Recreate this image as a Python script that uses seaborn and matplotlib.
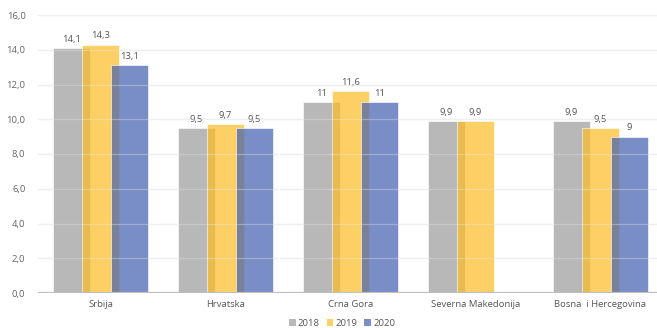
import numpy as np
import pandas as pd
import matplotlib
matplotlib.use("Agg")
import matplotlib.pyplot as plt
from matplotlib.patches import Patch
import seaborn as sns

countries = ["Srbija", "Hrvatska", "Crna Gora", "Severna Makedonija", "Bosna  i Hercegovina"]
years = ["2018", "2019", "2020"]
v2018 = [14.1, 9.5, 11.0, 9.9, 9.9]
v2019 = [14.3, 9.7, 11.6, 9.9, 9.5]
v2020 = [13.1, 9.5, 11.0, np.nan, 9.0]
yticks = [0, 2, 4, 6, 8, 10, 12, 14, 16]

# translucent fills; the legend uses their look on white
bar_colors = ["#9b9b9b", "#fcbd24", "#415fb0"]
legend_colors = ["#b9b9b9", "#fdd166", "#7a8fc8"]
ALPHA = 0.7

df = pd.DataFrame({
    "country": np.repeat(countries, 3),
    "year": years * len(countries),
    "value": [v for trio in zip(v2018, v2019, v2020) for v in trio],
}).dropna()

sns.set_theme(style="white")
plt.rcParams["font.family"] = ["Open Sans", "DejaVu Sans"]

fig = plt.figure(figsize=(6.57, 3.28), dpi=100)
ax = fig.add_axes([38 / 657, 35 / 328, 619 / 657, 278 / 328])

sns.barplot(data=df, x="country", y="value", hue="year", order=countries,
            hue_order=years, palette=bar_colors, saturation=1, width=0.696, gap=-0.31,
            alpha=ALPHA, edgecolor="white", linewidth=0.6, legend=False, ax=ax)

def fmt(v):
    return f"{v:g}".replace(".", ",")

for cont in ax.containers:
    ax.bar_label(cont, labels=[fmt(b.get_height()) for b in cont], padding=3,
                 fontsize=6.8, color="#555555")

ax.set_ylim(0, 16)
ax.set_xlim(-0.5, 4.452)
ax.set_yticks(yticks)
ax.set_yticklabels([f"{t:.1f}".replace(".", ",") for t in yticks])
ax.tick_params(axis="y", length=0, pad=9, labelsize=6.8, labelcolor="#666666")
ax.tick_params(axis="x", length=0, pad=5, labelsize=6.8, labelcolor="#555555")
ax.set_xlabel("")
ax.set_ylabel("")

for t in yticks[1:]:
    ax.axhline(t, color="#eeeeee", lw=0.9, zorder=0)
    ax.axhline(t, color="#f2f2f2", lw=0.9, alpha=0.35, zorder=5)

for s in ax.spines.values():
    s.set_visible(False)
ax.axhline(0, color="#bfbfbf", lw=1.6, zorder=6)

handles = [Patch(facecolor=c, edgecolor="none", label=y) for c, y in zip(legend_colors, years)]
fig.legend(handles=handles, loc="center", bbox_to_anchor=(342 / 657, 1 - 323 / 328),
           ncol=3, frameon=False, fontsize=6.8, handlelength=0.7, handleheight=0.7,
           handletextpad=0.25, columnspacing=0.7, labelcolor="#555555")

fig.savefig("out.png", dpi=100)
